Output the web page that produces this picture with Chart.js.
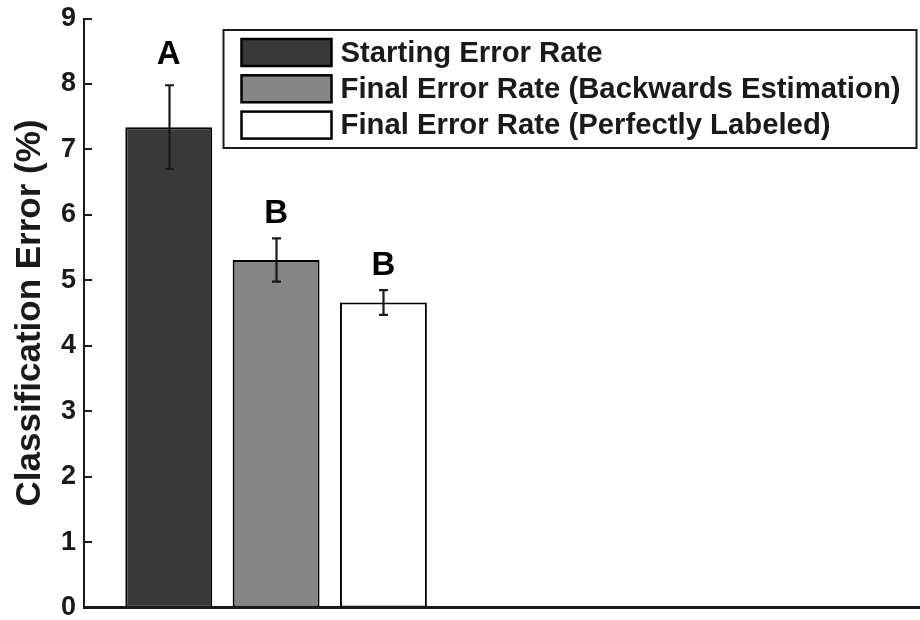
<!DOCTYPE html>
<html><head><meta charset="utf-8">
<script src="https://cdn.jsdelivr.net/npm/chart.js@4/dist/chart.umd.min.js"></script>
<style>html,body{margin:0;padding:0;background:#fff}#wrap{width:920px;height:620px}</style>
</head><body><div id="wrap"><canvas id="c" width="920" height="620"></canvas></div>
<script>
// ---- data ----
const seriesNames = ['Starting Error Rate', 'Final Error Rate (Backwards Estimation)', 'Final Error Rate (Perfectly Labeled)'];
const barPositions = [1, 2, 3];
const errorRates = [7.34, 5.31, 4.66];
const errorSE = [0.64, 0.33, 0.19];
const groupLetters = ['A', 'B', 'B'];
const letterLevels = [8.30, 5.88, 5.08];
const yTickValues = [0, 1, 2, 3, 4, 5, 6, 7, 8, 9];
const yAxisTitle = 'Classification Error (%)';

// ---- styles ----
const barColors = ['#393939', '#858585', '#ffffff'];
const FONT = "'Liberation Sans', Arial, Helvetica, sans-serif";
const INK = '#1a1a1a';

const points = barPositions.map((x, i) => ({ x: x, y: errorRates[i] }));

const extras = {
  id: 'extras',
  afterDatasetsDraw(chart) {
    const ctx = chart.ctx;
    const xs = chart.scales.x, ys = chart.scales.y;
    const area = chart.chartArea;
    ctx.save();
    // x axis line
    ctx.strokeStyle = INK; ctx.lineWidth = 3;
    const y0 = ys.getPixelForValue(0);
    ctx.beginPath(); ctx.moveTo(area.left - 1, y0); ctx.lineTo(area.right, y0); ctx.stroke();
    // inward ticks on y axis
    ctx.lineWidth = 2;
    yTickValues.forEach(v => {
      const py = Math.round(ys.getPixelForValue(v));
      ctx.beginPath(); ctx.moveTo(area.left, py); ctx.lineTo(area.left + 8, py); ctx.stroke();
    });
    // error bars
    ctx.lineWidth = 2.2;
    barPositions.forEach((x, i) => {
      const px = Math.round(xs.getPixelForValue(x)) + 0.5;
      const top = ys.getPixelForValue(errorRates[i] + errorSE[i]);
      const bot = ys.getPixelForValue(errorRates[i] - errorSE[i]);
      ctx.beginPath();
      ctx.moveTo(px, top); ctx.lineTo(px, bot);
      ctx.moveTo(px - 4.5, top); ctx.lineTo(px + 4.5, top);
      ctx.moveTo(px - 4.5, bot); ctx.lineTo(px + 4.5, bot);
      ctx.stroke();
    });
    // group letters
    ctx.fillStyle = '#000';
    ctx.font = 'bold 33px ' + FONT;
    ctx.textAlign = 'center'; ctx.textBaseline = 'alphabetic';
    barPositions.forEach((x, i) => {
      ctx.fillText(groupLetters[i], xs.getPixelForValue(x), ys.getPixelForValue(letterLevels[i]));
    });
    // legend box
    const lx = area.left + 139.5, ly = area.top + 11.5, lw = 693, lh = 118;
    ctx.fillStyle = '#fff';
    ctx.fillRect(lx, ly, lw, lh);
    ctx.strokeStyle = INK; ctx.lineWidth = 2;
    ctx.strokeRect(lx, ly, lw, lh);
    ctx.font = 'bold 29.3px ' + FONT;
    ctx.textAlign = 'left'; ctx.textBaseline = 'middle';
    seriesNames.forEach((name, i) => {
      const cy = ly + 22.5 + i * 36.3;
      ctx.fillStyle = barColors[i];
      ctx.fillRect(lx + 18, cy - 13.5, 90, 27);
      ctx.lineWidth = 2.5; ctx.strokeStyle = '#000';
      ctx.strokeRect(lx + 18, cy - 13.5, 90, 27);
      ctx.fillStyle = INK;
      ctx.fillText(name, lx + 117, cy + 1);
    });
    ctx.restore();
  }
};

new Chart(document.getElementById('c'), {
  type: 'bar',
  data: {
    datasets: [{
      data: points,
      backgroundColor: barColors,
      borderColor: '#000',
      borderWidth: 2,
      borderSkipped: false,
      barPercentage: 0.81,
      categoryPercentage: 1.0
    }]
  },
  plugins: [extras],
  options: {
    responsive: false,
    animation: false,
    events: [],
    layout: { padding: { top: 18.5, bottom: 12.5, left: 0, right: 0 } },
    plugins: { legend: { display: false }, tooltip: { enabled: false } },
    scales: {
      x: {
        type: 'linear',
        display: false,
        offset: false,
        min: 0.21,
        max: 8.0,
        ticks: { stepSize: 1, includeBounds: false },
        grid: { offset: false }
      },
      y: {
        min: 0, max: 9,
        afterFit(scale) { scale.width = 84; scale.paddingTop = 0; scale.paddingBottom = 0; },
        ticks: {
          stepSize: 1, padding: 8, color: INK,
          font: { family: FONT, size: 27, weight: 'bold' }
        },
        grid: { display: false, drawTicks: false },
        border: { display: true, color: INK, width: 2 },
        title: {
          display: true, text: yAxisTitle, color: INK,
          font: { family: FONT, size: 35, weight: 'bold' },
          padding: { top: 9, bottom: 0 }
        }
      }
    }
  }
});
</script>
</body></html>
